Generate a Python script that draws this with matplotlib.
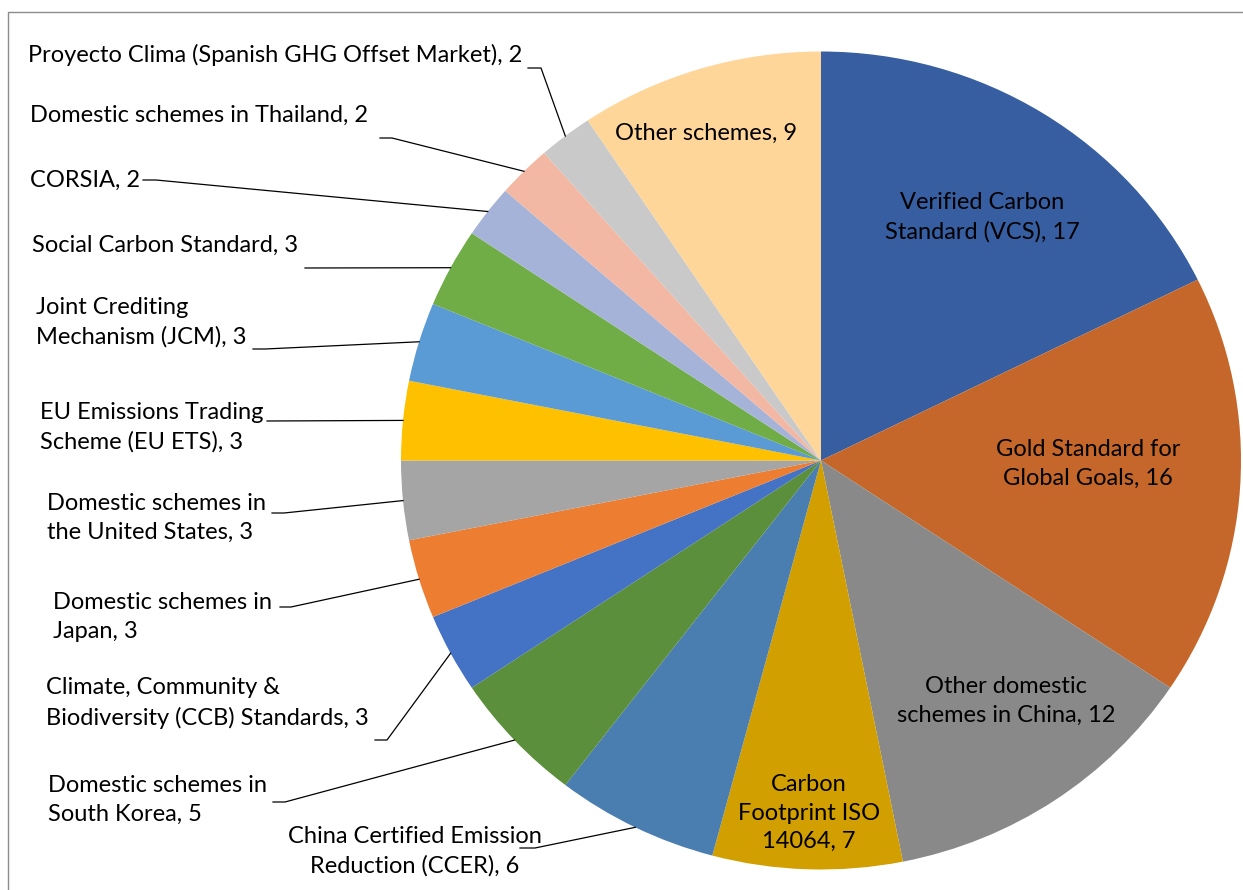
import matplotlib
matplotlib.use('Agg')
import matplotlib.pyplot as plt
import numpy as np
from matplotlib.patches import Rectangle

plt.rcParams['font.family'] = ['Lato', 'DejaVu Sans']

# schemes, clockwise from 12 o'clock
schemes = ['Verified Carbon\nStandard (VCS), 17',
           'Gold Standard for\nGlobal Goals, 16',
           'Other domestic\nschemes in China, 12',
           'Carbon\nFootprint ISO\n14064, 7',
           'China Certified Emission\nReduction (CCER), 6',
           'Domestic schemes in\nSouth Korea, 5',
           'Climate, Community &\nBiodiversity (CCB) Standards, 3',
           'Domestic schemes in\nJapan, 3',
           'Domestic schemes in\nthe United States, 3',
           'EU Emissions Trading\nScheme (EU ETS), 3',
           'Joint Crediting\nMechanism (JCM), 3',
           'Social Carbon Standard, 3',
           'CORSIA, 2',
           'Domestic schemes in Thailand, 2',
           'Proyecto Clima (Spanish GHG Offset Market), 2',
           'Other schemes, 9']
counts = [17, 16, 12, 7, 6, 5, 3, 3, 3, 3, 3, 3, 2, 2, 2, 9]
colors = ['#375EA0', '#C5672A', '#898989', '#D29F00', '#4A7EB0', '#5B8F3B',
          '#4472C4', '#ED7D31', '#A5A5A5', '#FFC000', '#5B9BD5', '#70AD47',
          '#A6B3D9', '#F3B8A3', '#C9C9C9', '#FFD69A']

# label layout in pixels: text anchor, alignment, leader start, optional elbow
inside = {0: (982, 217), 1: (1088, 464), 2: (1006, 701), 3: (809, 813), 15: (706, 133)}
outside = {
    4: (415, 851, 'center', (520, 848), (535, 848)),
    5: (48, 800, 'left', (273, 802), (285, 802)),
    6: (46, 703, 'left', (375, 740), (387, 740)),
    7: (53, 617, 'left', (280, 607), (291, 607)),
    8: (47, 518, 'left', (272, 513), (284, 513)),
    9: (40, 427, 'left', (267, 421), None),
    10: (36, 322, 'left', (253, 349), (265, 349)),
    11: (32, 245, 'left', (305, 268), None),
    12: (30, 180, 'left', (143, 180), (156, 180)),
    13: (30, 115, 'left', (380, 138), (392, 138)),
    14: (28, 55, 'left', (528, 68), (541, 68)),
}

W, H = 1243, 890
cx, cy, rx, ry = 821, 460.5, 420, 409

fig = plt.figure(figsize=(W / 100, H / 100), dpi=100)
ax = fig.add_axes([0, 0, 1, 1])
wedges, _ = ax.pie(counts, colors=colors, startangle=90, counterclock=False,
                   radius=1, wedgeprops=dict(linewidth=0))
ax.set_aspect('auto')
ax.set_xlim(-cx / rx, (W - cx) / rx)
ax.set_ylim(-(H - cy) / ry, cy / ry)
ax.axis('off')


def px(x, y):
    return (x - cx) / rx, (cy - y) / ry


fs = 17
total = sum(counts)
start = 0
for i, (name, c) in enumerate(zip(schemes, counts)):
    mid = np.deg2rad((start + c / 2) / total * 360)
    start += c
    edge = (np.sin(mid), np.cos(mid))
    if i in inside:
        ax.text(*px(*inside[i]), name, ha='center', va='center', fontsize=fs,
                linespacing=1.45, color='#000000')
    else:
        tx, ty, ha, p0, p1 = outside[i]
        ax.text(*px(tx, ty), name, ha=ha, va='center', fontsize=fs,
                linespacing=1.45, multialignment=ha, color='#000000')
        pts = [px(*p0)] + ([px(*p1)] if p1 else []) + [edge]
        xs, ys = zip(*pts)
        ax.plot(xs, ys, color='#000000', lw=0.9)

fig.add_artist(Rectangle((8 / W, -0.1), 1.2, 1 - 12 / H + 0.1, transform=fig.transFigure,
                         fill=False, edgecolor='#8C8C8C', lw=1.0))

fig.savefig('out.png', dpi=100)
